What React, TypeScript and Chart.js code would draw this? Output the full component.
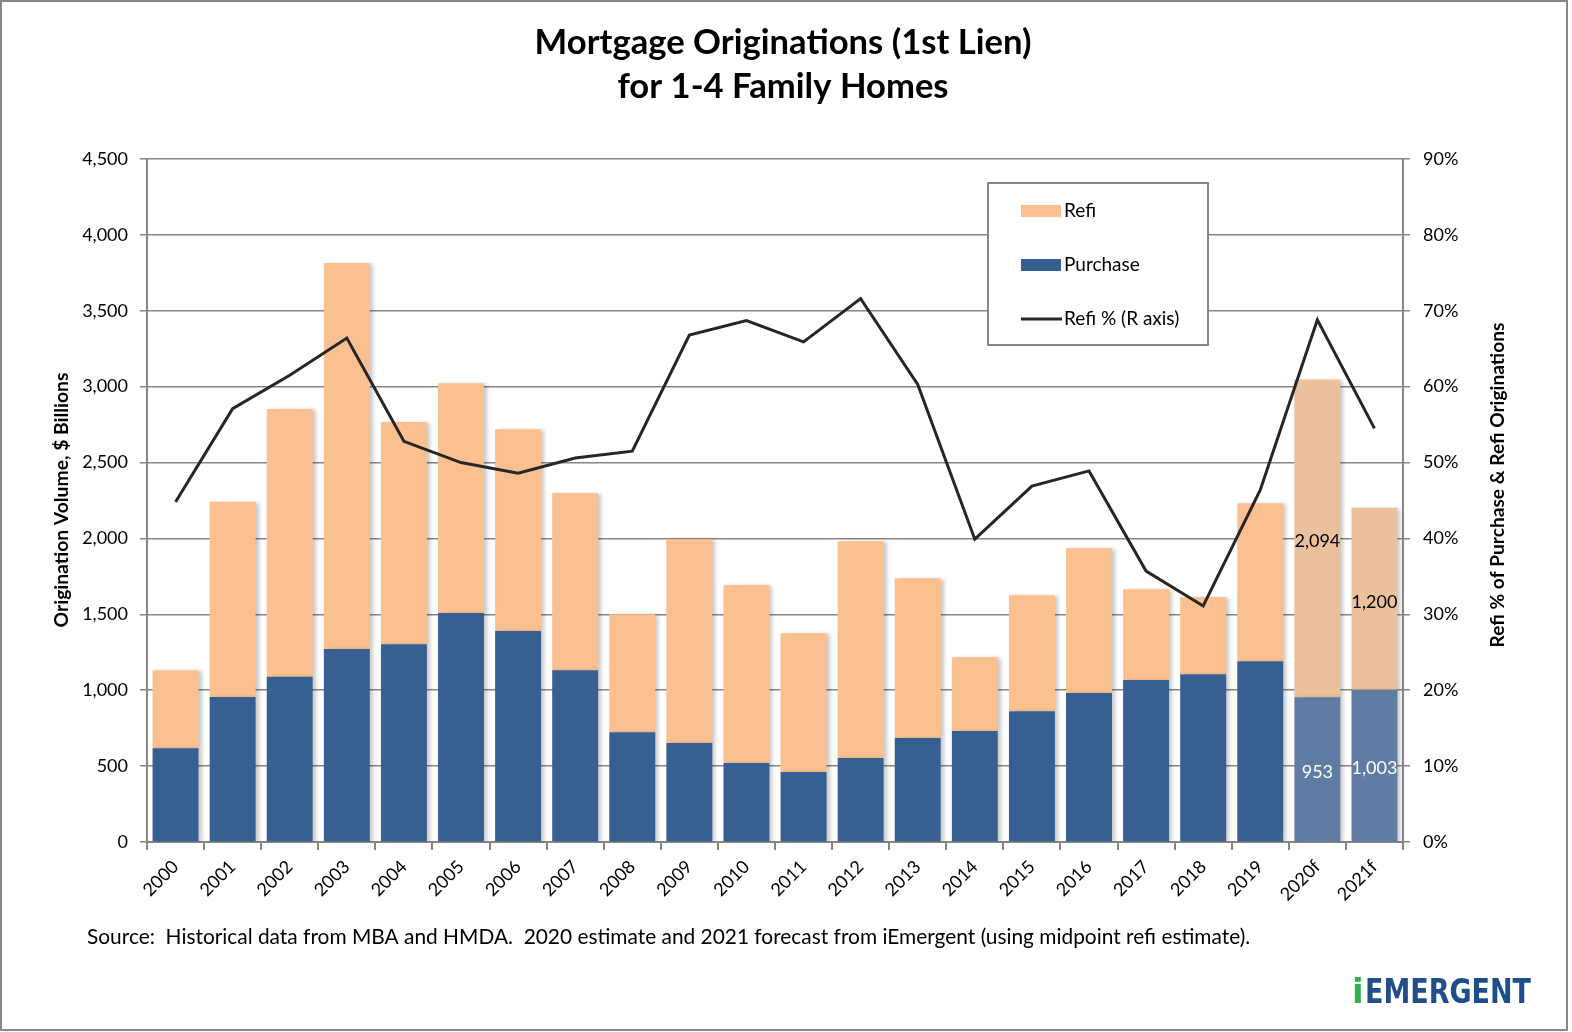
import React, { useEffect, useRef } from 'react';
import { Chart, registerables } from 'chart.js';

Chart.register(...registerables);

const categories = ['2000', '2001', '2002', '2003', '2004', '2005', '2006', '2007', '2008', '2009', '2010', '2011', '2012', '2013', '2014', '2015', '2016', '2017', '2018', '2019', '2020f', '2021f'];
const purchase = [618, 956, 1088, 1271, 1303, 1509, 1391, 1132, 723, 653, 521, 462, 553, 685, 732, 862, 982, 1068, 1106, 1191, 953, 1003];
const refi = [514, 1285, 1765, 2544, 1465, 1514, 1329, 1168, 777, 1341, 1173, 914, 1429, 1053, 486, 764, 953, 597, 509, 1041, 2094, 1200];
const refiPct = [44.8, 57.1, 61.5, 66.4, 52.8, 50.0, 48.6, 50.6, 51.5, 66.8, 68.7, 65.9, 71.6, 60.3, 39.9, 46.9, 48.9, 35.7, 31.1, 46.4, 68.8, 54.5];
const isForecast = [false, false, false, false, false, false, false, false, false, false, false, false, false, false, false, false, false, false, false, false, true, true];
const showLabel = isForecast;

const titleLines = ['Mortgage Originations (1st Lien)', 'for 1-4 Family Homes'];
const leftTitle = 'Origination Volume, $ Billions';
const rightTitle = 'Refi % of Purchase & Refi Originations';
const sourceText = 'Source:  Historical data from MBA and HMDA.  2020 estimate and 2021 forecast from iEmergent (using midpoint refi estimate).';
const legendItems = ['Refi', 'Purchase', 'Refi % (R axis)'];

const W = 1569;
const H = 1032;
const FONT = 'Lato, "Open Sans", sans-serif';
const GRID = '#868686';
const BLUE = '#376092';
const PEACH = '#FAC090';
const BLUE_F = '#5F7DA3';
const PEACH_F = '#EBC09C';
const LINE = '#262626';

function fitFont(ctx: CanvasRenderingContext2D, text: string, target: number, weight: string) {
  ctx.font = `${weight} 100px ${FONT}`;
  const w = ctx.measureText(text).width;
  return (100 * target) / w;
}

function isBar(chart: any, index: number) {
  const ds = chart.data.datasets[index];
  return ds.type === 'bar';
}

const decorPlugin = {
  id: 'decor',
  beforeDatasetDraw(chart: any, args: any) {
    if (isBar(chart, args.index)) {
      const ctx = chart.ctx;
      ctx.save();
      ctx.shadowColor = 'rgba(0,0,0,0.22)';
      ctx.shadowBlur = 4;
      ctx.shadowOffsetX = 3;
      ctx.shadowOffsetY = 1;
    }
  },
  afterDatasetDraw(chart: any, args: any) {
    if (isBar(chart, args.index)) chart.ctx.restore();
  },
  afterDatasetsDraw(chart: any) {
    const ctx = chart.ctx;
    ctx.save();
    ctx.font = `18px ${FONT}`;
    ctx.textAlign = 'center';
    ctx.textBaseline = 'middle';
    const mp = chart.getDatasetMeta(0);
    const mr = chart.getDatasetMeta(1);
    categories.forEach((_, i) => {
      if (!showLabel[i]) return;
      const pb = mr.data[i].getCenterPoint();
      ctx.fillStyle = '#000';
      ctx.fillText(refi[i].toLocaleString('en-US'), pb.x, pb.y + 3);
      const pa = mp.data[i].getCenterPoint();
      ctx.fillStyle = '#fff';
      ctx.fillText(purchase[i].toLocaleString('en-US'), pa.x, pa.y + 3);
    });
    ctx.restore();
  },
  afterDraw(chart: any) {
    const ctx = chart.ctx;
    ctx.save();
    ctx.strokeStyle = GRID;
    ctx.lineWidth = 2;
    ctx.strokeRect(1, 1, W - 3, H - 3);

    ctx.fillStyle = '#000';
    ctx.textAlign = 'center';
    ctx.textBaseline = 'alphabetic';
    const ts = fitFont(ctx, titleLines[0], 497, 'bold');
    ctx.font = `bold ${ts}px ${FONT}`;
    ctx.fillText(titleLines[0], 783, 54);
    ctx.fillText(titleLines[1], 783, 98);

    const ls = fitFont(ctx, leftTitle, 255, 'bold');
    ctx.font = `bold ${ls}px ${FONT}`;
    ctx.textBaseline = 'middle';
    ctx.save();
    ctx.translate(62, 500);
    ctx.rotate(-Math.PI / 2);
    ctx.fillText(leftTitle, 0, 0);
    ctx.restore();
    const rs = fitFont(ctx, rightTitle, 325, 'bold');
    ctx.font = `bold ${rs}px ${FONT}`;
    ctx.save();
    ctx.translate(1498, 485);
    ctx.rotate(-Math.PI / 2);
    ctx.fillText(rightTitle, 0, 0);
    ctx.restore();

    ctx.fillStyle = '#fff';
    ctx.fillRect(988, 183, 220, 162);
    ctx.strokeStyle = GRID;
    ctx.lineWidth = 2;
    ctx.strokeRect(988, 183, 220, 162);
    ctx.fillStyle = PEACH;
    ctx.fillRect(1021, 205, 40, 12);
    ctx.fillStyle = BLUE;
    ctx.fillRect(1021, 259, 40, 12);
    ctx.strokeStyle = LINE;
    ctx.lineWidth = 3;
    ctx.beginPath();
    ctx.moveTo(1021, 319);
    ctx.lineTo(1062, 319);
    ctx.stroke();
    ctx.fillStyle = '#000';
    ctx.textAlign = 'left';
    ctx.textBaseline = 'middle';
    ctx.font = `19px ${FONT}`;
    ctx.fillText(legendItems[0], 1064, 211);
    ctx.fillText(legendItems[1], 1064, 265);
    ctx.fillText(legendItems[2], 1064, 319);

    const ss = fitFont(ctx, sourceText, 1164, 'normal');
    ctx.font = `${ss}px ${FONT}`;
    ctx.fillText(sourceText, 87, 937);

    ctx.textBaseline = 'alphabetic';
    ctx.font = `bold 34px "DejaVu Sans", sans-serif`;
    ctx.fillStyle = '#2DB34A';
    ctx.fillText('i', 1352, 1003);
    ctx.fillStyle = '#1F4E8A';
    ctx.fillText('EMERGENT', 1365, 1003, 166);
    ctx.restore();
  },
};

export default function App() {
  const ref = useRef<HTMLCanvasElement | null>(null);
  useEffect(() => {
    if (!ref.current) return;
    const tickFont = { family: FONT, size: 18 };
    const chart = new Chart(ref.current, {
      type: 'bar',
      data: {
        labels: categories,
        datasets: [
          {
            type: 'bar',
            label: 'Purchase',
            data: purchase,
            backgroundColor: isForecast.map((f) => (f ? BLUE_F : BLUE)),
            borderWidth: 0,
            yAxisID: 'y',
            order: 1,
            categoryPercentage: 1,
            barPercentage: 0.805,
          },
          {
            type: 'bar',
            label: 'Refi',
            data: refi,
            backgroundColor: isForecast.map((f) => (f ? PEACH_F : PEACH)),
            borderWidth: 0,
            yAxisID: 'y',
            order: 1,
            categoryPercentage: 1,
            barPercentage: 0.805,
          },
          {
            type: 'line',
            label: 'Refi % (R axis)',
            data: refiPct,
            borderColor: LINE,
            borderWidth: 3,
            pointRadius: 0,
            tension: 0,
            yAxisID: 'y1',
            order: 0,
          } as any,
        ],
      },
      options: {
        responsive: false,
        animation: false,
        devicePixelRatio: 1,
        layout: { padding: { top: 159, left: 0, right: 0, bottom: 0 } },
        plugins: { legend: { display: false }, title: { display: false }, tooltip: { enabled: false } },
        scales: {
          x: {
            stacked: true,
            afterFit: (s: any) => {
              s.height = H - 842;
            },
            grid: { offset: true, drawOnChartArea: false, drawTicks: true, tickLength: 8, color: GRID, lineWidth: 2 },
            border: { color: GRID, width: 2 },
            ticks: { font: { family: FONT, size: 18 }, color: '#000', minRotation: 45, maxRotation: 45, padding: 6, autoSkip: false },
          },
          y: {
            stacked: true,
            position: 'left',
            min: 0,
            max: 4500,
            afterFit: (s: any) => {
              s.width = 147;
            },
            grid: { color: GRID, lineWidth: 1.5, tickLength: 7 },
            border: { color: GRID, width: 2 },
            ticks: {
              stepSize: 500,
              font: tickFont,
              color: '#000',
              padding: 12,
              callback: (v: any) => Number(v).toLocaleString('en-US'),
            },
          },
          y1: {
            position: 'right',
            min: 0,
            max: 90,
            afterFit: (s: any) => {
              s.width = W - 1403;
            },
            grid: { drawOnChartArea: false, color: GRID, lineWidth: 1.5, tickLength: 7 },
            border: { color: GRID, width: 2 },
            ticks: { stepSize: 10, font: tickFont, color: '#000', padding: 13, callback: (v: any) => `${v}%` },
          },
        },
      },
      plugins: [decorPlugin],
    } as any);
    return () => chart.destroy();
  }, []);
  return (
    <div style={{ position: 'absolute', left: 0, top: 0, width: W, height: H, background: '#fff' }}>
      <canvas ref={ref} width={W} height={H} style={{ width: W, height: H, display: 'block' }} />
    </div>
  );
}
